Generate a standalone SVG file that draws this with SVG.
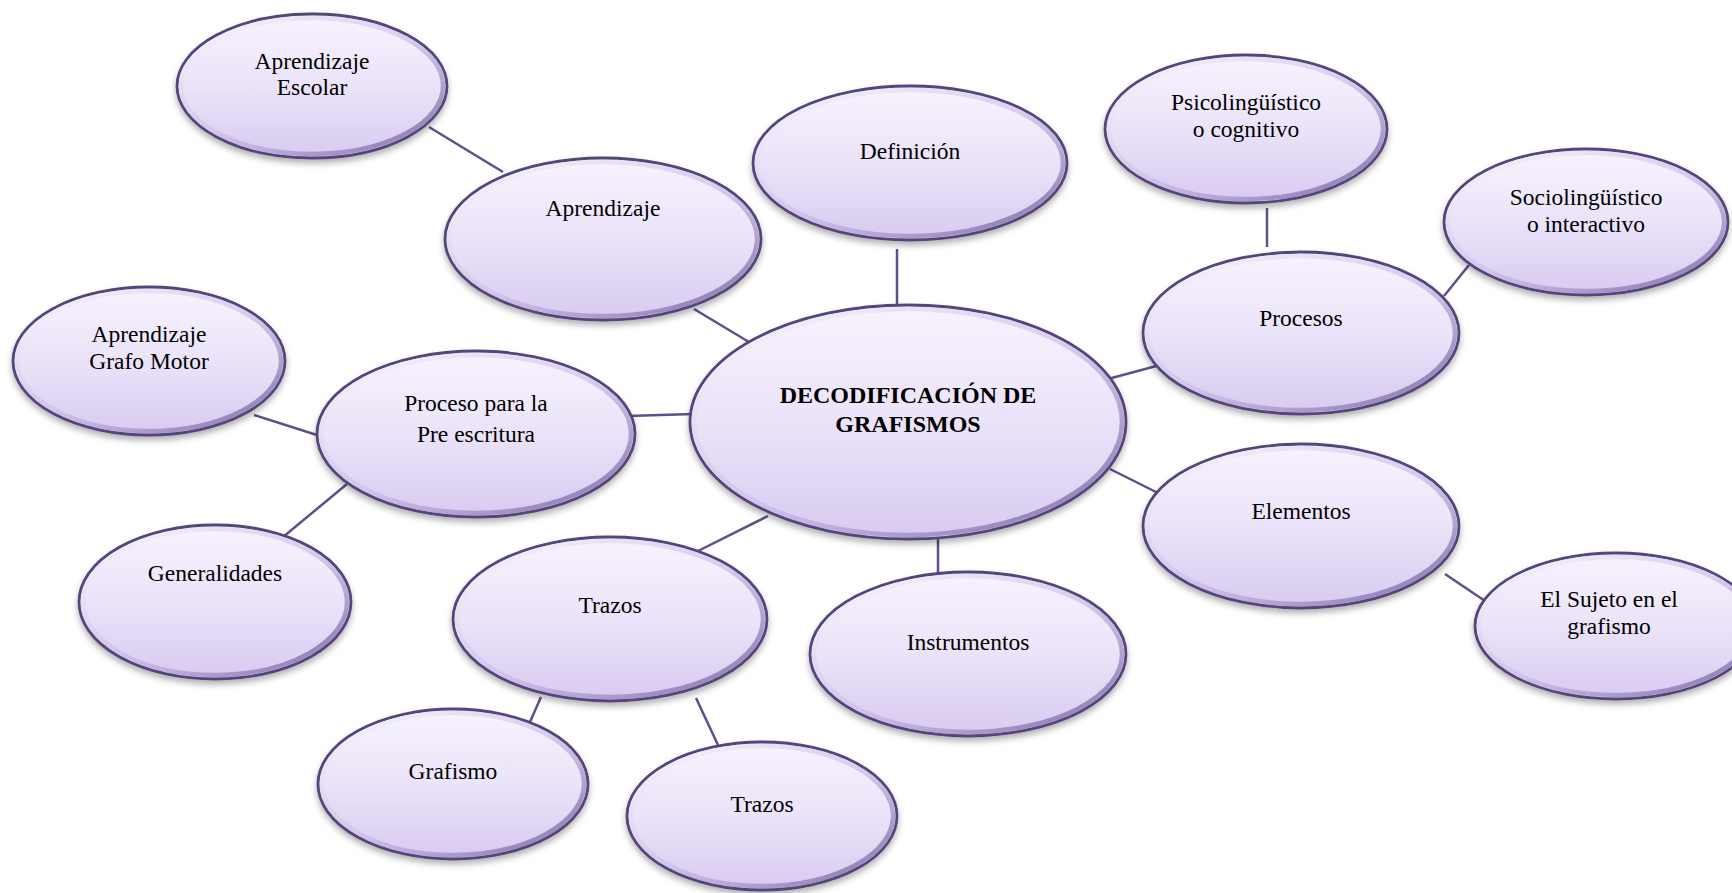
<svg xmlns="http://www.w3.org/2000/svg" width="1732" height="893" viewBox="0 0 1732 893">
<defs>
<linearGradient id="fillG" x1="0" y1="0" x2="0" y2="1">
<stop offset="0" stop-color="#f7f3fd"/>
<stop offset="0.5" stop-color="#ebe3f9"/>
<stop offset="1" stop-color="#d8caf0"/>
</linearGradient>
<linearGradient id="rimG" x1="0" y1="0" x2="1" y2="1">
<stop offset="0" stop-color="#ffffff" stop-opacity="0.9"/>
<stop offset="0.5" stop-color="#c9b9e6" stop-opacity="0.6"/>
<stop offset="1" stop-color="#6f5c99" stop-opacity="0.9"/>
</linearGradient>
<filter id="sh" x="-10%" y="-10%" width="120%" height="130%">
<feDropShadow dx="0" dy="4" stdDeviation="3" flood-color="#000000" flood-opacity="0.3"/>
</filter>
</defs>
<style>
.node ellipse.b{fill:url(#fillG);stroke:#54447a;stroke-width:2.8;filter:url(#sh)}
.node ellipse.r{fill:none;stroke:url(#rimG);stroke-width:4.5}
.node text{font-family:"Liberation Serif","Times New Roman",serif;font-size:23.5px;fill:#000;text-anchor:middle}
.node text.main{font-weight:bold;font-size:24px}
#connectors line{stroke:#5f4f8a;stroke-width:2.5;fill:none}
</style>
<rect width="1732" height="893" fill="#ffffff"/>
<g id="connectors">
<line x1="429" y1="127" x2="503" y2="172"/>
<line x1="694" y1="309" x2="749" y2="342"/>
<line x1="897" y1="249" x2="897" y2="305"/>
<line x1="1267" y1="208" x2="1267" y2="247"/>
<line x1="1469" y1="265" x2="1444" y2="296"/>
<line x1="1160" y1="365" x2="1108" y2="379"/>
<line x1="254" y1="415" x2="320" y2="436"/>
<line x1="627" y1="416" x2="694" y2="414"/>
<line x1="283" y1="537" x2="347" y2="484"/>
<line x1="1110" y1="469" x2="1160" y2="494"/>
<line x1="768" y1="516" x2="698" y2="551"/>
<line x1="938" y1="536" x2="938" y2="576"/>
<line x1="1445" y1="574" x2="1491" y2="605"/>
<line x1="541" y1="697" x2="530" y2="722"/>
<line x1="696" y1="698" x2="718" y2="745"/>
</g>
<g id="n-aprendizaje-escolar" class="node">
<ellipse class="b" cx="312" cy="86" rx="135" ry="72"/><ellipse class="r" cx="312" cy="86" rx="131" ry="68"/>
<text x="312" y="69">Aprendizaje</text><text x="312" y="95">Escolar</text>
</g>
<g id="n-aprendizaje" class="node">
<ellipse class="b" cx="603" cy="239" rx="158" ry="81"/><ellipse class="r" cx="603" cy="239" rx="154" ry="77"/>
<text x="603" y="216">Aprendizaje</text>
</g>
<g id="n-definicion" class="node">
<ellipse class="b" cx="910" cy="163" rx="157" ry="77"/><ellipse class="r" cx="910" cy="163" rx="153" ry="73"/>
<text x="910" y="159">Definición</text>
</g>
<g id="n-psico" class="node">
<ellipse class="b" cx="1246" cy="129" rx="141" ry="74"/><ellipse class="r" cx="1246" cy="129" rx="137" ry="70"/>
<text x="1246" y="110">Psicolingüístico</text><text x="1246" y="137">o cognitivo</text>
</g>
<g id="n-socio" class="node">
<ellipse class="b" cx="1586" cy="222" rx="142" ry="73"/><ellipse class="r" cx="1586" cy="222" rx="138" ry="69"/>
<text x="1586" y="205">Sociolingüístico</text><text x="1586" y="232">o interactivo</text>
</g>
<g id="n-procesos" class="node">
<ellipse class="b" cx="1301" cy="333" rx="158" ry="81"/><ellipse class="r" cx="1301" cy="333" rx="154" ry="77"/>
<text x="1301" y="326">Procesos</text>
</g>
<g id="n-grafo-motor" class="node">
<ellipse class="b" cx="149" cy="361" rx="136" ry="74"/><ellipse class="r" cx="149" cy="361" rx="132" ry="70"/>
<text x="149" y="342">Aprendizaje</text><text x="149" y="369">Grafo Motor</text>
</g>
<g id="n-proceso-pre" class="node">
<ellipse class="b" cx="476" cy="434" rx="159" ry="83"/><ellipse class="r" cx="476" cy="434" rx="155" ry="79"/>
<text x="476" y="411">Proceso para la</text><text x="476" y="442">Pre escritura</text>
</g>
<g id="n-centro" class="node">
<ellipse class="b" cx="908" cy="422" rx="218" ry="117"/><ellipse class="r" cx="908" cy="422" rx="214" ry="113"/>
<text class="main" x="908" y="403">DECODIFICACIÓN DE</text><text class="main" x="908" y="432">GRAFISMOS</text>
</g>
<g id="n-elementos" class="node">
<ellipse class="b" cx="1301" cy="526" rx="158" ry="82"/><ellipse class="r" cx="1301" cy="526" rx="154" ry="78"/>
<text x="1301" y="519">Elementos</text>
</g>
<g id="n-generalidades" class="node">
<ellipse class="b" cx="215" cy="602" rx="136" ry="77"/><ellipse class="r" cx="215" cy="602" rx="132" ry="73"/>
<text x="215" y="581">Generalidades</text>
</g>
<g id="n-trazos" class="node">
<ellipse class="b" cx="610" cy="619" rx="157" ry="82"/><ellipse class="r" cx="610" cy="619" rx="153" ry="78"/>
<text x="610" y="613">Trazos</text>
</g>
<g id="n-instrumentos" class="node">
<ellipse class="b" cx="968" cy="654" rx="158" ry="82"/><ellipse class="r" cx="968" cy="654" rx="154" ry="78"/>
<text x="968" y="650">Instrumentos</text>
</g>
<g id="n-sujeto" class="node">
<ellipse class="b" cx="1616" cy="626" rx="141" ry="73"/><ellipse class="r" cx="1616" cy="626" rx="137" ry="69"/>
<text x="1609" y="607">El Sujeto en el</text><text x="1609" y="634">grafismo</text>
</g>
<g id="n-grafismo" class="node">
<ellipse class="b" cx="453" cy="784" rx="135" ry="75"/><ellipse class="r" cx="453" cy="784" rx="131" ry="71"/>
<text x="453" y="779">Grafismo</text>
</g>
<g id="n-trazos-2" class="node">
<ellipse class="b" cx="762" cy="816" rx="135" ry="74"/><ellipse class="r" cx="762" cy="816" rx="131" ry="70"/>
<text x="762" y="812">Trazos</text>
</g>
</svg>
